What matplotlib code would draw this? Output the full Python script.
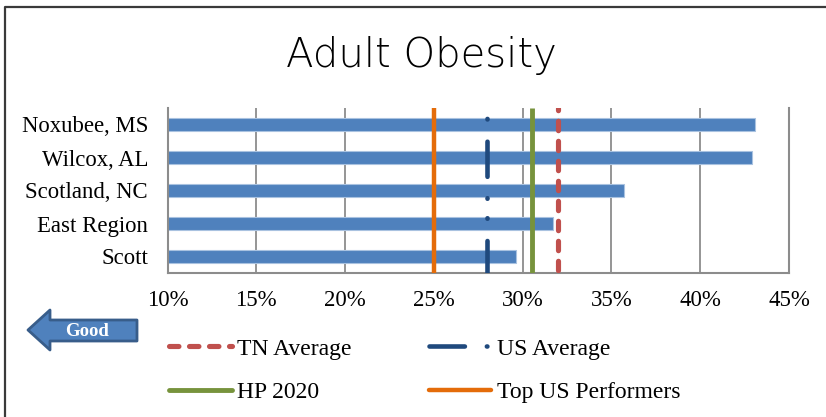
import matplotlib
matplotlib.use("Agg")
import matplotlib.pyplot as plt
from matplotlib.lines import Line2D
from matplotlib.patches import Polygon
from matplotlib.ticker import FuncFormatter

# --- data ---
categories = ["Noxubee, MS", "Wilcox, AL", "Scotland, NC", "East Region", "Scott"]
obesity_pct = [43.1, 42.9, 35.7, 31.7, 29.6]
tn_average = 32.0
us_average = 28.0
hp_2020 = 30.5
top_us = 25.0
x_ticks = [10, 15, 20, 25, 30, 35, 40, 45]

# --- colours (Office 2007 palette) ---
BAR = "#4F81BD"
RED = "#C0504D"
NAVY = "#1F497D"
GREEN = "#77933C"
ORANGE = "#E46C0A"
GRID = "#8C8C8C"

plt.rcParams["lines.scale_dashes"] = False
SERIF = ["Liberation Serif", "DejaVu Serif"]
RED_DASH = (6.8, 7.6)

W, H = 826, 417
fig = plt.figure(figsize=(W / 100, H / 100), dpi=100)
ax = fig.add_axes([167.5 / W, 1 - 273 / H, (789 - 167.5) / W, (273 - 108) / H])

y = list(range(len(categories)))
ax.barh(y, obesity_pct, height=0.42, color=BAR, edgecolor="#A9C2E0",
        linewidth=0.8, zorder=2)
ax.set_ylim(len(categories) - 0.5, -0.5)
ax.set_xlim(x_ticks[0], x_ticks[-1])
ax.set_xticks(x_ticks)
ax.xaxis.set_major_formatter(FuncFormatter(lambda v, p: f"{v:.0f}%"))
ax.set_yticks(y)
ax.set_yticklabels(categories, fontfamily=SERIF, fontsize=16.4)
for lab in ax.get_xticklabels():
    lab.set_fontfamily(SERIF)
    lab.set_fontsize(16.5)
ax.tick_params(axis="both", length=0)
ax.tick_params(axis="y", pad=14)
ax.tick_params(axis="x", pad=12)
ax.grid(axis="x", color=GRID, linewidth=1.3, zorder=0)
ax.set_axisbelow(True)
ax.spines["top"].set_visible(False)
for side in ["left", "right", "bottom"]:
    ax.spines[side].set_color(GRID)
    ax.spines[side].set_linewidth(1.5)

# reference lines, drawn top to bottom so the dash phase matches
xt = ax.get_xaxis_transform()
ax.plot([top_us, top_us], [1, 0], transform=xt, color=ORANGE, lw=3.2,
        zorder=3, solid_capstyle="butt")
ax.plot([hp_2020, hp_2020], [1, 0], transform=xt, color=GREEN, lw=3.5,
        zorder=3, solid_capstyle="butt")
tn_line, = ax.plot([tn_average, tn_average], [1, 0], transform=xt, color=RED,
                   lw=3.7, zorder=3, dash_capstyle="round")
tn_line.set_linestyle((5.2, RED_DASH))
us_line, = ax.plot([us_average, us_average], [1, 0], transform=xt, color=NAVY,
                   lw=3.3, zorder=3, dash_capstyle="round")
us_line.set_linestyle((64, [0.4, 16.0, 25.3, 15.4, 0.4, 14.0]))

# legend with proxy handles
h_tn = Line2D([], [], color=RED, lw=3.7, dashes=RED_DASH, dash_capstyle="round")
h_hp = Line2D([], [], color=GREEN, lw=3.5, solid_capstyle="round")
h_us = Line2D([], [], color=NAVY, lw=3.3, dash_capstyle="round",
              dashes=(25.5, 15.8, 0.4, 20.0))
h_top = Line2D([], [], color=ORANGE, lw=3.2, solid_capstyle="round")
fig.legend([h_tn, h_hp, h_us, h_top],
           ["TN Average", "HP 2020", "US Average", "Top US Performers"],
           ncol=2, loc="upper left", bbox_to_anchor=(169 / W, 1 - 338 / H),
           frameon=False, borderpad=0, borderaxespad=0, handlelength=2.65,
           handletextpad=0.25, columnspacing=3.25, labelspacing=0.92,
           prop={"family": SERIF, "size": 17})

# title
fig.text(421 / W, 1 - 67 / H, "Adult Obesity", ha="center", va="baseline",
         fontsize=29, fontfamily="DejaVu Sans", fontweight="light")

# "Good" arrow
pts = [(28, 330), (50, 310), (50, 320), (137, 320), (137, 341),
       (50, 341), (50, 350)]
arrow = Polygon([(px / W, 1 - py / H) for px, py in pts], closed=True,
                transform=fig.transFigure, facecolor=BAR, edgecolor="#385D8A",
                linewidth=2, joinstyle="round")
fig.patches.append(arrow)
fig.text(87 / W, 1 - 331 / H, "Good", ha="center", va="center", color="white",
         fontsize=13.5, fontweight="bold", fontfamily=SERIF)

# outer frame (only left and top edges fall inside the crop)
fig.add_artist(Line2D([5 / W, 5 / W, 1], [0, 1 - 7 / H, 1 - 7 / H],
                      transform=fig.transFigure, color="#3A3A3A", lw=1.6))

fig.savefig("out.png", dpi=100)
